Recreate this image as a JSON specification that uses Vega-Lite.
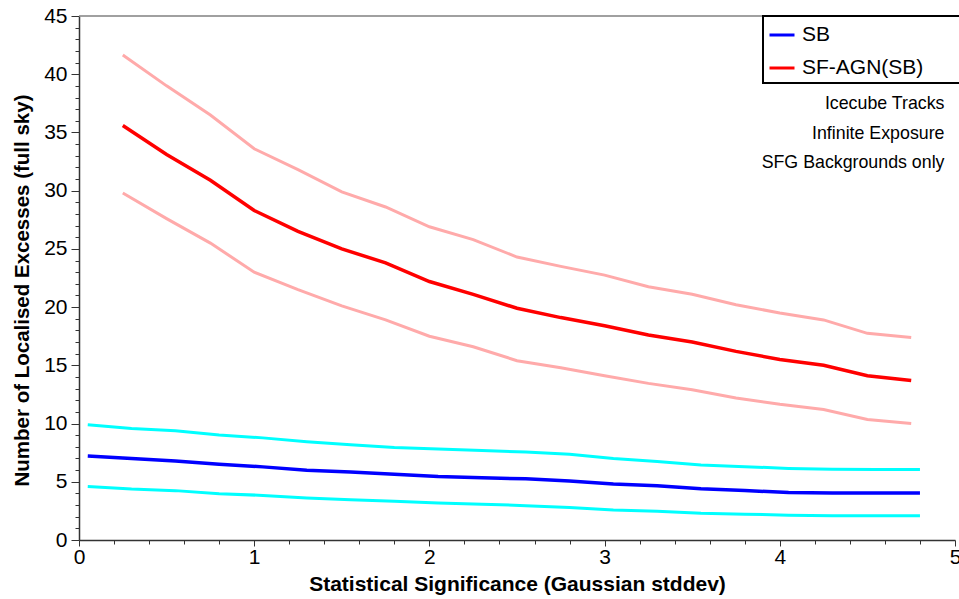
{
  "$schema": "https://vega.github.io/schema/vega-lite/v6.json",
  "width": 876,
  "height": 524,
  "autosize": {"type": "none"},
  "padding": {"left": 79, "top": 16, "right": 4, "bottom": 59},
  "background": "white",
  "config": {
    "view": {"stroke": null},
    "axis": {
      "grid": false,
      "domainColor": "#333333",
      "domainWidth": 1.5,
      "tickColor": "#333333",
      "labelFont": "Liberation Sans",
      "labelFontSize": 21,
      "labelColor": "black",
      "titleFont": "Liberation Sans",
      "titleFontWeight": "bold",
      "titleColor": "black",
      "labelOverlap": false,
      "labelFlush": false,
      "tickCount": 500
    },
    "legend": {"strokeWidth": 2}
  },
  "datasets": {
    "bands": [
      {"x": 0.05, "y": 9.9, "band": "SB upper"}, {"x": 0.3, "y": 9.58, "band": "SB upper"}, {"x": 0.55, "y": 9.39, "band": "SB upper"}, {"x": 0.8, "y": 9.02, "band": "SB upper"}, {"x": 1.05, "y": 8.77, "band": "SB upper"}, {"x": 1.3, "y": 8.43, "band": "SB upper"}, {"x": 1.55, "y": 8.17, "band": "SB upper"}, {"x": 1.8, "y": 7.95, "band": "SB upper"}, {"x": 2.05, "y": 7.82, "band": "SB upper"}, {"x": 2.3, "y": 7.69, "band": "SB upper"}, {"x": 2.55, "y": 7.55, "band": "SB upper"}, {"x": 2.8, "y": 7.36, "band": "SB upper"}, {"x": 3.05, "y": 7.0, "band": "SB upper"}, {"x": 3.3, "y": 6.75, "band": "SB upper"}, {"x": 3.55, "y": 6.45, "band": "SB upper"}, {"x": 3.8, "y": 6.3, "band": "SB upper"}, {"x": 4.05, "y": 6.15, "band": "SB upper"}, {"x": 4.3, "y": 6.07, "band": "SB upper"}, {"x": 4.55, "y": 6.05, "band": "SB upper"}, {"x": 4.8, "y": 6.05, "band": "SB upper"},
      {"x": 0.05, "y": 4.6, "band": "SB lower"}, {"x": 0.3, "y": 4.37, "band": "SB lower"}, {"x": 0.55, "y": 4.24, "band": "SB lower"}, {"x": 0.8, "y": 3.98, "band": "SB lower"}, {"x": 1.05, "y": 3.83, "band": "SB lower"}, {"x": 1.3, "y": 3.6, "band": "SB lower"}, {"x": 1.55, "y": 3.45, "band": "SB lower"}, {"x": 1.8, "y": 3.33, "band": "SB lower"}, {"x": 2.05, "y": 3.17, "band": "SB lower"}, {"x": 2.3, "y": 3.08, "band": "SB lower"}, {"x": 2.55, "y": 2.95, "band": "SB lower"}, {"x": 2.8, "y": 2.8, "band": "SB lower"}, {"x": 3.05, "y": 2.57, "band": "SB lower"}, {"x": 3.3, "y": 2.47, "band": "SB lower"}, {"x": 3.55, "y": 2.3, "band": "SB lower"}, {"x": 3.8, "y": 2.22, "band": "SB lower"}, {"x": 4.05, "y": 2.13, "band": "SB lower"}, {"x": 4.3, "y": 2.09, "band": "SB lower"}, {"x": 4.55, "y": 2.08, "band": "SB lower"}, {"x": 4.8, "y": 2.08, "band": "SB lower"},
      {"x": 0.25, "y": 41.65, "band": "SF upper"}, {"x": 0.5, "y": 39.0, "band": "SF upper"}, {"x": 0.75, "y": 36.5, "band": "SF upper"}, {"x": 1.0, "y": 33.6, "band": "SF upper"}, {"x": 1.25, "y": 31.8, "band": "SF upper"}, {"x": 1.5, "y": 29.9, "band": "SF upper"}, {"x": 1.75, "y": 28.6, "band": "SF upper"}, {"x": 2.0, "y": 26.9, "band": "SF upper"}, {"x": 2.25, "y": 25.8, "band": "SF upper"}, {"x": 2.5, "y": 24.3, "band": "SF upper"}, {"x": 2.75, "y": 23.5, "band": "SF upper"}, {"x": 3.0, "y": 22.75, "band": "SF upper"}, {"x": 3.25, "y": 21.75, "band": "SF upper"}, {"x": 3.5, "y": 21.1, "band": "SF upper"}, {"x": 3.75, "y": 20.2, "band": "SF upper"}, {"x": 4.0, "y": 19.5, "band": "SF upper"}, {"x": 4.25, "y": 18.9, "band": "SF upper"}, {"x": 4.5, "y": 17.75, "band": "SF upper"}, {"x": 4.75, "y": 17.4, "band": "SF upper"},
      {"x": 0.25, "y": 29.8, "band": "SF lower"}, {"x": 0.5, "y": 27.6, "band": "SF lower"}, {"x": 0.75, "y": 25.5, "band": "SF lower"}, {"x": 1.0, "y": 23.0, "band": "SF lower"}, {"x": 1.25, "y": 21.5, "band": "SF lower"}, {"x": 1.5, "y": 20.1, "band": "SF lower"}, {"x": 1.75, "y": 18.9, "band": "SF lower"}, {"x": 2.0, "y": 17.5, "band": "SF lower"}, {"x": 2.25, "y": 16.6, "band": "SF lower"}, {"x": 2.5, "y": 15.4, "band": "SF lower"}, {"x": 2.75, "y": 14.8, "band": "SF lower"}, {"x": 3.0, "y": 14.1, "band": "SF lower"}, {"x": 3.25, "y": 13.45, "band": "SF lower"}, {"x": 3.5, "y": 12.9, "band": "SF lower"}, {"x": 3.75, "y": 12.2, "band": "SF lower"}, {"x": 4.0, "y": 11.65, "band": "SF lower"}, {"x": 4.25, "y": 11.2, "band": "SF lower"}, {"x": 4.5, "y": 10.35, "band": "SF lower"}, {"x": 4.75, "y": 10.0, "band": "SF lower"}
    ],
    "main": [
      {"x": 0.05, "y": 7.22, "series": "SB"}, {"x": 0.3, "y": 7.0, "series": "SB"}, {"x": 0.55, "y": 6.78, "series": "SB"}, {"x": 0.8, "y": 6.5, "series": "SB"}, {"x": 1.05, "y": 6.28, "series": "SB"}, {"x": 1.3, "y": 6.0, "series": "SB"}, {"x": 1.55, "y": 5.85, "series": "SB"}, {"x": 1.8, "y": 5.65, "series": "SB"}, {"x": 2.05, "y": 5.45, "series": "SB"}, {"x": 2.3, "y": 5.35, "series": "SB"}, {"x": 2.55, "y": 5.25, "series": "SB"}, {"x": 2.8, "y": 5.07, "series": "SB"}, {"x": 3.05, "y": 4.8, "series": "SB"}, {"x": 3.3, "y": 4.65, "series": "SB"}, {"x": 3.55, "y": 4.4, "series": "SB"}, {"x": 3.8, "y": 4.25, "series": "SB"}, {"x": 4.05, "y": 4.08, "series": "SB"}, {"x": 4.3, "y": 4.04, "series": "SB"}, {"x": 4.55, "y": 4.03, "series": "SB"}, {"x": 4.8, "y": 4.03, "series": "SB"},
      {"x": 0.25, "y": 35.6, "series": "SF-AGN(SB)"}, {"x": 0.5, "y": 33.1, "series": "SF-AGN(SB)"}, {"x": 0.75, "y": 30.9, "series": "SF-AGN(SB)"}, {"x": 1.0, "y": 28.3, "series": "SF-AGN(SB)"}, {"x": 1.25, "y": 26.5, "series": "SF-AGN(SB)"}, {"x": 1.5, "y": 25.0, "series": "SF-AGN(SB)"}, {"x": 1.75, "y": 23.8, "series": "SF-AGN(SB)"}, {"x": 2.0, "y": 22.2, "series": "SF-AGN(SB)"}, {"x": 2.25, "y": 21.1, "series": "SF-AGN(SB)"}, {"x": 2.5, "y": 19.9, "series": "SF-AGN(SB)"}, {"x": 2.75, "y": 19.1, "series": "SF-AGN(SB)"}, {"x": 3.0, "y": 18.4, "series": "SF-AGN(SB)"}, {"x": 3.25, "y": 17.6, "series": "SF-AGN(SB)"}, {"x": 3.5, "y": 17.0, "series": "SF-AGN(SB)"}, {"x": 3.75, "y": 16.2, "series": "SF-AGN(SB)"}, {"x": 4.0, "y": 15.5, "series": "SF-AGN(SB)"}, {"x": 4.25, "y": 15.0, "series": "SF-AGN(SB)"}, {"x": 4.5, "y": 14.1, "series": "SF-AGN(SB)"}, {"x": 4.75, "y": 13.7, "series": "SF-AGN(SB)"}
    ],
    "notes": [
      {"x": 4.94, "y": 37.4, "note": "Icecube Tracks"},
      {"x": 4.94, "y": 34.85, "note": "Infinite Exposure"},
      {"x": 4.94, "y": 32.35, "note": "SFG Backgrounds only"}
    ],
    "frame": [{"top": 45}]
  },
  "layer": [
    {
      "data": {"name": "frame"},
      "mark": {"type": "rule", "color": "#808080", "strokeWidth": 1.5},
      "encoding": {
        "y": {"field": "top", "type": "quantitative", "scale": {"domain": [0, 45], "nice": false}}
      }
    },
    {
      "data": {"name": "bands"},
      "mark": {"type": "line", "strokeWidth": 3, "interpolate": "linear"},
      "encoding": {
        "x": {
          "field": "x", "type": "quantitative",
          "scale": {"domain": [0, 5], "nice": false, "zero": false},
          "axis": {
            "title": "Statistical Significance (Gaussian stddev)",
            "titleFontSize": 21,
            "titlePadding": 6,
            "tickCount": 500,
            "values": [0, 0.2, 0.4, 0.6, 0.8, 1, 1.2, 1.4, 1.6, 1.8, 2, 2.2, 2.4, 2.6, 2.8, 3, 3.2, 3.4, 3.6, 3.8, 4, 4.2, 4.4, 4.6, 4.8, 5],
            "labelExpr": "abs(datum.value - round(datum.value)) < 0.000001 ? format(datum.value, 'd') : ''",
            "tickSize": {"condition": {"test": "abs(datum.value - round(datum.value)) < 0.000001", "value": 6}, "value": 4},
            "labelPadding": 0
          }
        },
        "y": {
          "field": "y", "type": "quantitative",
          "scale": {"domain": [0, 45], "nice": false},
          "axis": {
            "title": "Number of Localised Excesses (full sky)",
            "titleFontSize": 20.5,
            "titlePadding": 11,
            "titleY": 274,
            "tickCount": 500,
            "values": [0, 1, 2, 3, 4, 5, 6, 7, 8, 9, 10, 11, 12, 13, 14, 15, 16, 17, 18, 19, 20, 21, 22, 23, 24, 25, 26, 27, 28, 29, 30, 31, 32, 33, 34, 35, 36, 37, 38, 39, 40, 41, 42, 43, 44, 45],
            "labelExpr": "datum.value % 5 === 0 ? format(datum.value, 'd') : ''",
            "tickSize": {"condition": {"test": "datum.value % 5 === 0", "value": 8}, "value": 4},
            "labelPadding": 4
          }
        },
        "color": {
          "field": "band", "type": "nominal",
          "scale": {"domain": ["SB upper", "SB lower", "SF upper", "SF lower"], "range": ["#00ffff", "#00ffff", "#ffaaaa", "#ffaaaa"]},
          "legend": null
        }
      }
    },
    {
      "data": {"name": "main"},
      "mark": {"type": "line", "strokeWidth": 3.5, "interpolate": "linear"},
      "encoding": {
        "x": {"field": "x", "type": "quantitative"},
        "y": {"field": "y", "type": "quantitative"},
        "color": {
          "field": "series", "type": "nominal",
          "scale": {"domain": ["SB", "SF-AGN(SB)"], "range": ["#0000ff", "#ff0000"]},
          "legend": {
            "title": "\u2800\u2800\u2800\u2800\u2800",
            "titleOrient": "right",
            "titleFontSize": 20,
            "titlePadding": 0,
            "orient": "none",
            "legendX": 684,
            "legendY": 0,
            "padding": 5,
            "fillColor": "white",
            "strokeColor": "black",
            "symbolType": "stroke",
            "symbolSize": 625,
            "symbolStrokeWidth": 3,
            "labelFont": "Liberation Sans",
            "labelFontSize": 21,
            "labelColor": "black",
            "labelOffset": 6,
            "labelLimit": 400,
            "rowPadding": 9
          }
        }
      }
    },
    {
      "data": {"name": "notes"},
      "mark": {"type": "text", "align": "right", "baseline": "middle", "font": "Liberation Sans", "fontSize": 17.8, "color": "black"},
      "encoding": {
        "x": {"field": "x", "type": "quantitative"},
        "y": {"field": "y", "type": "quantitative"},
        "text": {"field": "note"}
      }
    }
  ],
  "resolve": {"scale": {"color": "independent"}}
}
